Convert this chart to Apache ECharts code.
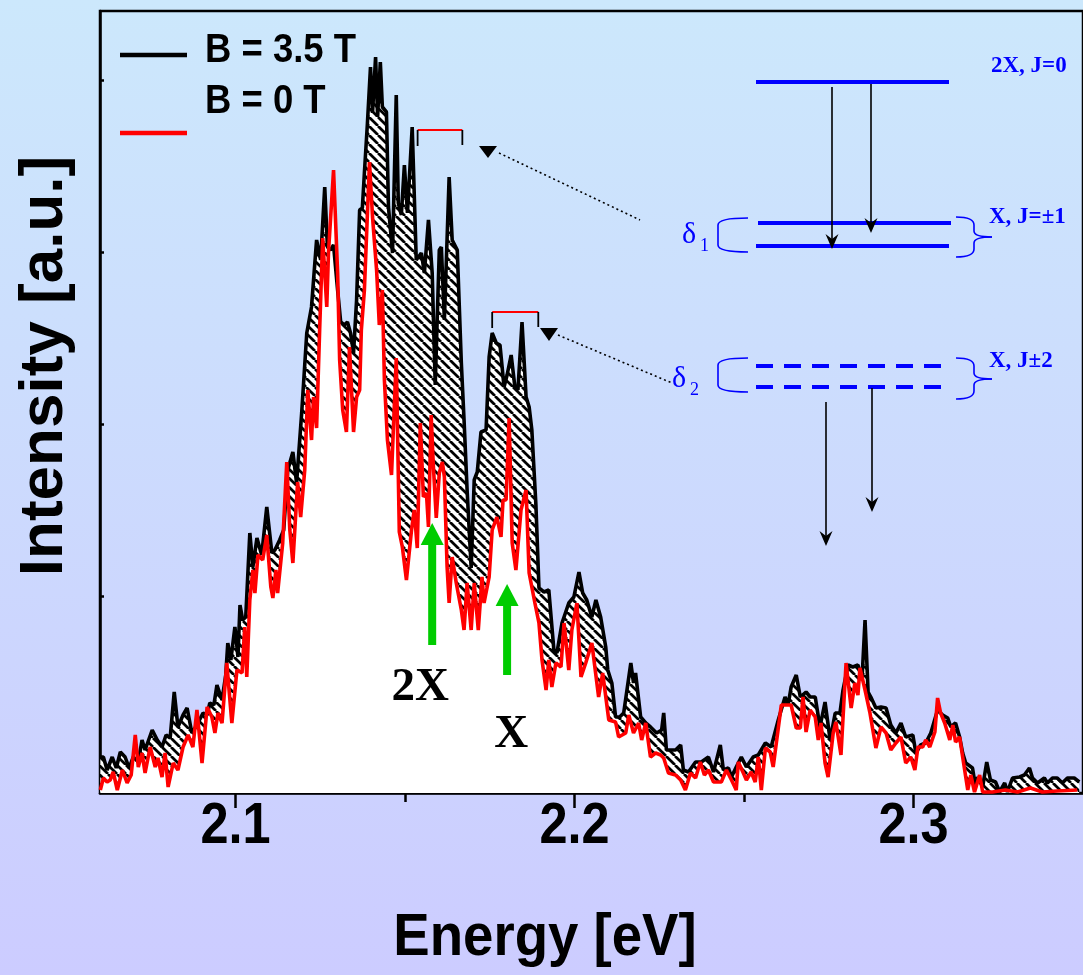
<!DOCTYPE html>
<html>
<head>
<meta charset="utf-8">
<script src="https://cdn.jsdelivr.net/npm/echarts@6/dist/echarts.min.js"></script>
<style>
  html, body { margin: 0; padding: 0; }
  body { width: 1083px; height: 975px; background: linear-gradient(to bottom, #cce8fc 0%, #ccccff 100%); }
  #chart { width: 1083px; height: 975px; }
</style>
</head>
<body>
<div id="chart"></div>
<script>
// Photoluminescence spectra, [energy (eV), intensity (a.u.)]
const spectrum35T = [
  [2.0601,36],[2.0610,36],[2.0621,23],[2.0636,36],[2.0648,25],[2.0660,41],[2.0674,36],[2.0686,25],[2.0698,36],[2.0713,31],
  [2.0724,53],[2.0733,43],[2.0754,63],[2.0769,53],[2.0783,46],[2.0795,58],[2.0807,55],[2.0819,101],[2.0830,66],[2.0845,78],
  [2.0857,85],[2.0871,60],[2.0886,68],[2.0904,80],[2.0916,78],[2.0924,90],[2.0936,88],[2.0945,108],[2.0960,93],[2.0971,118],
  [2.0977,150],[2.0986,133],[2.0998,166],[2.1007,136],[2.1013,188],[2.1021,173],[2.1030,176],[2.1042,260],[2.1051,226],[2.1063,255],
  [2.1077,238],[2.1092,286],[2.1107,240],[2.1116,243],[2.1130,253],[2.1142,263],[2.1154,323],[2.1169,341],[2.1180,310],[2.1195,380],
  [2.1210,460],[2.1224,486],[2.1239,553],[2.1251,533],[2.1263,606],[2.1271,546],[2.1280,543],[2.1289,548],[2.1301,503],[2.1310,471],
  [2.1321,468],[2.1330,471],[2.1339,460],[2.1348,440],[2.1357,493],[2.1366,583],[2.1374,585],[2.1380,620],[2.1389,670],[2.1398,726],
  [2.1404,680],[2.1413,736],[2.1419,676],[2.1427,731],[2.1433,686],[2.1445,681],[2.1451,586],[2.1463,540],[2.1474,698],[2.1480,590],
  [2.1489,578],[2.1498,628],[2.1507,580],[2.1521,666],[2.1533,533],[2.1548,540],[2.1557,520],[2.1569,573],[2.1580,520],[2.1589,408],
  [2.1601,543],[2.1607,546],[2.1616,473],[2.1630,616],[2.1639,553],[2.1654,543],[2.1666,430],[2.1674,373],[2.1683,303],[2.1695,225],
  [2.1704,313],[2.1713,321],[2.1724,361],[2.1739,363],[2.1748,436],[2.1757,460],[2.1769,450],[2.1780,448],[2.1792,406],[2.1801,418],
  [2.1813,438],[2.1824,406],[2.1833,403],[2.1845,471],[2.1857,396],[2.1866,386],[2.1874,363],[2.1886,288],[2.1895,205],[2.1910,201],
  [2.1924,203],[2.1939,143],[2.1948,140],[2.1963,170],[2.1974,181],[2.1983,190],[2.1998,196],[2.2013,221],[2.2024,200],[2.2036,193],
  [2.2051,176],[2.2063,193],[2.2077,176],[2.2092,146],[2.2098,123],[2.2110,110],[2.2121,76],[2.2133,76],[2.2145,80],[2.2166,130],
  [2.2174,110],[2.2180,120],[2.2195,76],[2.2210,70],[2.2224,66],[2.2242,60],[2.2257,63],[2.2263,80],[2.2271,43],[2.2298,43],
  [2.2313,48],[2.2321,23],[2.2336,21],[2.2357,31],[2.2374,31],[2.2395,36],[2.2410,21],[2.2430,48],[2.2439,23],[2.2454,25],
  [2.2463,16],[2.2477,26],[2.2492,36],[2.2507,26],[2.2527,36],[2.2542,38],[2.2563,50],[2.2580,46],[2.2601,73],[2.2621,96],
  [2.2630,88],[2.2639,106],[2.2654,118],[2.2666,96],[2.2683,101],[2.2695,96],[2.2710,96],[2.2724,66],[2.2739,91],[2.2754,53],
  [2.2769,80],[2.2783,80],[2.2792,103],[2.2807,128],[2.2821,126],[2.2836,128],[2.2848,113],[2.2857,173],[2.2866,101],[2.2874,96],
  [2.2889,85],[2.2904,86],[2.2919,85],[2.2933,68],[2.2948,60],[2.2963,70],[2.2977,56],[2.2998,58],[2.3007,40],[2.3021,48],
  [2.3036,50],[2.3051,60],[2.3071,83],[2.3086,78],[2.3101,75],[2.3110,66],[2.3124,70],[2.3136,56],[2.3145,40],[2.3154,30],
  [2.3174,25],[2.3183,6],[2.3189,16],[2.3204,6],[2.3216,31],[2.3227,13],[2.3242,11],[2.3254,1],[2.3269,10],[2.3277,1],
  [2.3292,15],[2.3313,16],[2.3327,18],[2.3342,25],[2.3351,15],[2.3366,10],[2.3386,15],[2.3395,10],[2.3410,15],[2.3424,15],
  [2.3439,10],[2.3454,15],[2.3474,15],[2.3489,11]
];

const spectrum0T = [
  [2.0601,3],[2.0610,15],[2.0621,11],[2.0630,13],[2.0639,21],[2.0651,3],[2.0666,23],[2.0680,10],[2.0692,18],[2.0704,58],
  [2.0713,26],[2.0724,40],[2.0733,20],[2.0748,46],[2.0763,26],[2.0771,35],[2.0783,16],[2.0792,40],[2.0801,6],[2.0816,30],
  [2.0830,23],[2.0845,46],[2.0860,58],[2.0874,46],[2.0886,83],[2.0901,30],[2.0916,86],[2.0930,76],[2.0939,60],[2.0948,80],
  [2.0960,70],[2.0974,130],[2.0989,70],[2.1004,123],[2.1019,120],[2.1027,166],[2.1033,116],[2.1042,193],[2.1051,223],[2.1057,200],
  [2.1066,238],[2.1080,233],[2.1092,258],[2.1104,206],[2.1110,195],[2.1119,223],[2.1124,200],[2.1139,250],[2.1151,331],[2.1160,263],
  [2.1169,230],[2.1183,311],[2.1192,276],[2.1204,323],[2.1213,403],[2.1224,353],[2.1230,396],[2.1239,365],[2.1248,463],[2.1257,555],
  [2.1269,486],[2.1274,540],[2.1289,623],[2.1301,520],[2.1307,433],[2.1316,383],[2.1327,361],[2.1336,446],[2.1348,361],[2.1357,396],
  [2.1366,403],[2.1371,463],[2.1380,503],[2.1395,631],[2.1404,576],[2.1416,523],[2.1424,468],[2.1433,503],[2.1439,413],[2.1448,353],
  [2.1460,318],[2.1474,435],[2.1483,261],[2.1492,246],[2.1504,213],[2.1519,263],[2.1527,283],[2.1536,245],[2.1545,370],[2.1554,296],
  [2.1563,300],[2.1569,266],[2.1577,378],[2.1583,330],[2.1592,275],[2.1601,320],[2.1610,331],[2.1616,316],[2.1624,226],[2.1630,190],
  [2.1639,236],[2.1651,210],[2.1666,183],[2.1674,163],[2.1683,210],[2.1695,163],[2.1704,210],[2.1716,163],[2.1727,216],[2.1733,190],
  [2.1748,216],[2.1757,263],[2.1771,276],[2.1783,256],[2.1789,293],[2.1798,293],[2.1807,375],[2.1816,250],[2.1827,223],[2.1842,283],
  [2.1857,303],[2.1866,220],[2.1883,190],[2.1895,170],[2.1904,133],[2.1916,103],[2.1924,133],[2.1933,106],[2.1945,130],[2.1960,126],
  [2.1969,170],[2.1983,123],[2.1992,163],[2.2007,190],[2.2019,116],[2.2033,130],[2.2051,150],[2.2071,96],[2.2083,120],[2.2101,73],
  [2.2121,71],[2.2130,56],[2.2151,60],[2.2160,78],[2.2174,60],[2.2189,70],[2.2198,53],[2.2210,70],[2.2224,36],[2.2239,40],
  [2.2254,38],[2.2263,35],[2.2277,20],[2.2298,18],[2.2313,13],[2.2327,3],[2.2342,20],[2.2357,15],[2.2371,31],[2.2383,18],
  [2.2395,23],[2.2410,11],[2.2433,11],[2.2448,23],[2.2463,13],[2.2477,3],[2.2483,31],[2.2498,20],[2.2507,13],[2.2521,21],
  [2.2533,11],[2.2542,36],[2.2551,3],[2.2563,45],[2.2577,41],[2.2586,26],[2.2610,88],[2.2639,88],[2.2654,65],[2.2666,65],
  [2.2674,96],[2.2683,61],[2.2695,83],[2.2710,76],[2.2719,53],[2.2727,70],[2.2739,30],[2.2748,16],[2.2763,60],[2.2771,71],
  [2.2786,38],[2.2801,130],[2.2816,85],[2.2827,110],[2.2836,98],[2.2842,125],[2.2857,103],[2.2871,81],[2.2889,45],[2.2904,66],
  [2.2919,60],[2.2933,43],[2.2948,50],[2.2963,56],[2.2977,30],[2.2992,36],[2.3004,23],[2.3013,46],[2.3027,46],[2.3036,53],
  [2.3048,46],[2.3063,61],[2.3071,95],[2.3080,80],[2.3092,70],[2.3107,53],[2.3116,68],[2.3124,51],[2.3136,56],[2.3145,36],
  [2.3160,3],[2.3169,18],[2.3180,1],[2.3195,18],[2.3204,1],[2.3233,1],[2.3271,3],[2.3307,1],[2.3345,5],[2.3380,1],
  [2.3424,2],[2.3483,3]
];

// Axis ticks
const energyTicks = [2.1, 2.2, 2.3];
const energyMinorTicks = [2.15, 2.25];
const intensityTicks = [26, 197, 369, 541, 713];

// Annotations on the spectrum (energies in eV, heights in a.u.)
const peakMarkers = [
  { label: '2X', energy: 2.1580, tip: 270, tail: 148 },
  { label: 'X',  energy: 2.1801, tip: 209, tail: 118 }
];
const splittings = [
  { energy1: 2.1537, energy2: 2.1669, level: 663 },
  { energy1: 2.1757, energy2: 2.1893, level: 481 }
];

const SANS = '"Liberation Sans", Arial, sans-serif';
const SERIF = '"Liberation Serif", "Times New Roman", serif';
const BLUE = '#0000ff';

function hatchPattern() {
  const s = 9;
  const c = document.createElement('canvas');
  c.width = s; c.height = s;
  const g = c.getContext('2d');
  g.fillStyle = '#ffffff';
  g.fillRect(0, 0, s, s);
  g.strokeStyle = '#000000';
  g.lineWidth = 2.7;
  for (const k of [-s, 0, s]) {
    g.beginPath(); g.moveTo(k, 0); g.lineTo(k + s, s); g.stroke();
  }
  return c;
}

const chart = echarts.init(document.getElementById('chart'), null, { renderer: 'canvas' });

const tickStyle = { color: '#000', width: 2.5 };
chart.setOption({
  animation: false,
  backgroundColor: 'transparent',
  grid: { left: 100, top: 11, width: 986, height: 782, show: true, borderColor: '#000', borderWidth: 2.5, backgroundColor: 'transparent' },
  xAxis: [
    {
      type: 'value', min: 2.06, max: 2.35,
      axisLine: { lineStyle: tickStyle },
      axisTick: { customValues: energyTicks, length: 15, lineStyle: tickStyle },
      axisLabel: { show: false },
      splitLine: { show: false }
    },
    {
      type: 'value', min: 2.06, max: 2.35, position: 'bottom',
      axisLine: { show: false },
      axisTick: { customValues: energyMinorTicks, length: 9, lineStyle: tickStyle },
      axisLabel: { show: false },
      splitLine: { show: false }
    }
  ],
  yAxis: {
    type: 'value', min: 0, max: 782,
    axisLine: { show: true, lineStyle: tickStyle },
    axisTick: { customValues: intensityTicks, inside: true, length: 4, lineStyle: tickStyle },
    axisLabel: { show: false },
    splitLine: { show: false }
  },
  series: [
    { type: 'line', data: spectrum35T, symbol: 'none', silent: true, z: 1,
      lineStyle: { width: 0 }, areaStyle: { color: { image: hatchPattern(), repeat: 'repeat' }, opacity: 1 } },
    { type: 'line', data: spectrum0T, symbol: 'none', silent: true, z: 2,
      lineStyle: { width: 0 }, areaStyle: { color: '#ffffff', opacity: 1 } },
    { type: 'line', name: 'B = 3.5 T', data: spectrum35T, symbol: 'none', silent: true, z: 3,
      lineStyle: { color: '#000000', width: 3.6 } },
    { type: 'line', name: 'B = 0 T', data: spectrum0T, symbol: 'none', silent: true, z: 4,
      lineStyle: { color: '#ff0000', width: 3.6 } }
  ]
});

function toPx(e, v) { return chart.convertToPixel({ gridIndex: 0 }, [e, v]); }

function text(x, y, str, font, fill, align, opts) {
  const o = opts || {};
  return { type: 'text', x, y, rotation: o.rotation || 0, scaleX: o.scaleX || 1, scaleY: o.scaleY || 1, z: 20,
    style: { text: str, font, fill, textAlign: align || 'left', textVerticalAlign: 'middle', verticalAlign: 'middle' } };
}
function seg(x1, y1, x2, y2, stroke, w, dash) {
  return { type: 'line', z: 20, shape: { x1, y1, x2, y2 }, style: { stroke, lineWidth: w, lineDash: dash || null } };
}
function curve(x1, y1, cpx1, cpy1, x2, y2, stroke, w) {
  return { type: 'bezierCurve', z: 20, shape: { x1, y1, x2, y2, cpx1, cpy1 }, style: { stroke, lineWidth: w, fill: null } };
}
function poly(points, fill) {
  return { type: 'polygon', z: 20, shape: { points }, style: { fill } };
}
function downArrow(x, y1, y2) {
  return [
    seg(x, y1, x, y2 - 6, '#000', 1.6),
    poly([[x, y2], [x - 6.5, y2 - 15], [x, y2 - 10], [x + 6.5, y2 - 15]], '#000')
  ];
}
// Rounded left bracket between two levels
function leftBracket(xr, xl, top, bottom) {
  return [
    curve(xr, top, xl, top, xl, top + 7, BLUE, 1.6),
    seg(xl, top + 7, xl, bottom - 7, BLUE, 1.6),
    curve(xl, bottom - 7, xl, bottom, xr, bottom, BLUE, 1.6)
  ];
}
// Curly brace opening to the left, pointing right at its middle
function rightBrace(xl, xm, xt, top, mid, bottom) {
  return [
    curve(xl, top, xm, top, xm, top + 8, BLUE, 1.6),
    seg(xm, top + 8, xm, mid - 6, BLUE, 1.6),
    curve(xm, mid - 6, xm, mid, xt, mid, BLUE, 1.6),
    curve(xt, mid, xm, mid, xm, mid + 6, BLUE, 1.6),
    seg(xm, mid + 6, xm, bottom - 8, BLUE, 1.6),
    curve(xm, bottom - 8, xm, bottom, xl, bottom, BLUE, 1.6)
  ];
}

const g = [];

// Energy tick labels (condensed bold face)
energyTicks.forEach(e => {
  const p = toPx(e, 0);
  g.push(text(p[0], 827, e.toFixed(1), 'bold 58px ' + SANS, '#000', 'center', { scaleX: 0.87 }));
});

// Axis titles
g.push(text(45, 366, 'Intensity [a.u.]', 'bold 62px ' + SANS, '#000', 'center', { rotation: Math.PI / 2 }));
g.push(text(545, 938, 'Energy [eV]', 'bold 60px ' + SANS, '#000', 'center', { scaleX: 0.91 }));

// Legend
g.push(seg(120, 55, 187, 55, '#000', 4.5));
g.push(text(205, 51, 'B = 3.5 T', 'bold 41px ' + SANS, '#000', 'left', { scaleX: 0.89 }));
g.push(text(205, 102, 'B = 0 T', 'bold 41px ' + SANS, '#000', 'left', { scaleX: 0.89 }));
g.push(seg(120, 133, 187, 133, '#ff0000', 4.5));

// Green markers for the biexciton and exciton lines
peakMarkers.forEach((m, i) => {
  const tip = toPx(m.energy, m.tip);
  const tail = toPx(m.energy, m.tail);
  const x = tip[0];
  g.push({ type: 'rect', z: 20, shape: { x: x - 4, y: tip[1] + 20, width: 8, height: tail[1] - tip[1] - 20 }, style: { fill: '#00cc00' } });
  g.push(poly([[x, tip[1]], [x - 11.5, tip[1] + 22], [x + 11.5, tip[1] + 22]], '#00cc00'));
  const lx = i === 0 ? x - 12 : x + 4;
  const ly = i === 0 ? tail[1] + 43 : tail[1] + 60;
  g.push(text(lx, ly, m.label, 'bold 47px ' + SERIF, '#000', 'center'));
});

// Splitting brackets above the peaks
splittings.forEach(s => {
  const a = toPx(s.energy1, s.level);
  const b = toPx(s.energy2, s.level);
  g.push(seg(a[0], a[1], b[0], b[1], '#ff0000', 1.8));
  g.push(seg(a[0], a[1], a[0], a[1] + 16, '#000', 1.8));
  g.push(seg(b[0], b[1], b[0], b[1] + 15, '#000', 1.8));
});

// Dotted pointers from the level scheme
g.push(seg(499, 153, 640, 220, '#000', 1.6, [2, 3]));
g.push(poly([[479, 146], [497, 146], [488, 158]], '#000'));
g.push(seg(558, 335, 672, 383, '#000', 1.6, [2, 3]));
g.push(poly([[540, 328], [558, 328], [549, 341]], '#000'));

// Level scheme
g.push(seg(756, 82, 949, 82, BLUE, 4));
g.push(seg(758, 223, 951, 223, BLUE, 4));
g.push(seg(756, 246, 949, 246, BLUE, 4));
g.push(seg(756, 366, 945, 366, BLUE, 4, [17, 11]));
g.push(seg(756, 387, 945, 387, BLUE, 4, [17, 11]));
g.push(...downArrow(832, 87, 249));
g.push(...downArrow(871, 84, 233));
g.push(...downArrow(826, 402, 546));
g.push(...downArrow(872, 388, 512));

g.push(...leftBracket(748, 718, 218, 252));
g.push(...leftBracket(748, 718, 358, 392));
g.push(...rightBrace(956, 974, 992, 217, 237, 257));
g.push(...rightBrace(956, 974, 992, 358, 379, 399));

g.push(text(991, 66, '2X, J=0', 'bold 23px ' + SERIF, BLUE));
g.push(text(989, 217, 'X, J=±1', 'bold 23px ' + SERIF, BLUE));
g.push(text(989, 361, 'X, J±2', 'bold 23px ' + SERIF, BLUE));
g.push(text(682, 235, 'δ', '30px ' + SERIF, BLUE));
g.push(text(700, 246, '1', '18px ' + SERIF, BLUE));
g.push(text(672, 379, 'δ', '30px ' + SERIF, BLUE));
g.push(text(690, 390, '2', '18px ' + SERIF, BLUE));

chart.setOption({ graphic: { elements: g } });
</script>
</body>
</html>
